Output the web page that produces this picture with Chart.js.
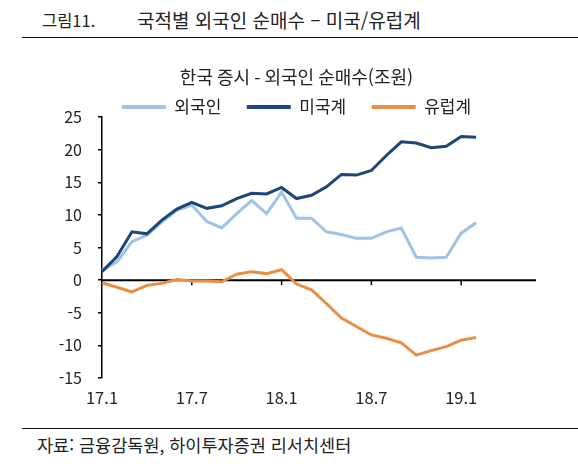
<!DOCTYPE html>
<html lang="ko">
<head>
<meta charset="utf-8">
<script src="https://cdn.jsdelivr.net/npm/chart.js@4"></script>
<style>
  html, body { margin: 0; padding: 0; background: #fff; }
  body { width: 578px; height: 464px; position: relative; overflow: hidden;
         font-family: "Noto Sans CJK KR", "Noto Sans", sans-serif; color: #222; }
  .fig-no { position: absolute; left: 42px; top: 10px; font-size: 16.5px; line-height: 20px; }
  .fig-title { position: absolute; left: 137px; top: 10px; font-size: 19px; line-height: 20px; white-space: nowrap; }
  .rule { position: absolute; left: 22px; width: 556px; height: 1px; background: #111; }
  .src { position: absolute; left: 37px; top: 435px; font-size: 17.5px; line-height: 20px; white-space: nowrap; }
  #wrap { position: absolute; left: 0; top: 48px; width: 578px; height: 370px; }
</style>
</head>
<body>
<div class="fig-no">그림11.</div>
<div class="fig-title">국적별 외국인 순매수 – 미국/유럽계</div>
<div class="rule" style="top:37px"></div>
<div id="wrap"><canvas id="chart"></canvas></div>
<div class="rule" style="top:428px"></div>
<div class="src">자료: 금융감독원, 하이투자증권 리서치센터</div>

<script>
// months on the category axis (17.1 .. 19.6), data runs to 19.2
const months = [
  '17.1','17.2','17.3','17.4','17.5','17.6','17.7','17.8','17.9','17.10','17.11','17.12',
  '18.1','18.2','18.3','18.4','18.5','18.6','18.7','18.8','18.9','18.10','18.11','18.12',
  '19.1','19.2','19.3','19.4','19.5','19.6'
];
const xTickLabels = ['17.1', '17.7', '18.1', '18.7', '19.1'];
const yTicks = [-15, -10, -5, 0, 5, 10, 15, 20, 25];

// cumulative net buying, trillion won
const foreign = [1.5, 2.8, 5.9, 6.9, 8.9, 10.7, 11.5, 9.0, 8.0, 10.2, 12.2, 10.2, 13.5, 9.5, 9.5, 7.4, 7.0, 6.4, 6.4, 7.4, 8.0, 3.5, 3.4, 3.5, 7.2, 8.8];
const usa     = [1.3, 3.6, 7.4, 7.1, 9.2, 10.9, 11.9, 11.0, 11.4, 12.5, 13.3, 13.2, 14.2, 12.5, 13.0, 14.3, 16.2, 16.1, 16.8, 19.1, 21.2, 21.0, 20.3, 20.5, 22.0, 21.9];
const europe  = [-0.4, -1.1, -1.8, -0.8, -0.5, 0.1, -0.15, -0.15, -0.25, 0.9, 1.3, 1.0, 1.6, -0.6, -1.5, -3.6, -5.8, -7.1, -8.4, -8.9, -9.6, -11.5, -10.8, -10.2, -9.2, -8.8];

const C = {
  light: '#9DC3E6',
  navy: '#1B4677',
  orange: '#E98E45',
  ink: '#222',
};
const FONT = '"Noto Sans CJK KR", "Noto Sans", sans-serif';

// zero axis line with small downward ticks, drawn under the series
const zeroAxis = {
  id: 'zeroAxis',
  beforeDatasetsDraw(chart) {
    const { ctx, chartArea, scales } = chart;
    const y0 = scales.y.getPixelForValue(0);
    ctx.save();
    ctx.strokeStyle = '#000';
    ctx.lineWidth = 2;
    ctx.beginPath();
    ctx.moveTo(chartArea.left, y0);
    ctx.lineTo(chartArea.right, y0);
    ctx.stroke();
    ctx.lineWidth = 1.5;
    xTickLabels.forEach((lab) => {
      const x = scales.x.getPixelForValue(months.indexOf(lab));
      ctx.beginPath();
      ctx.moveTo(x, y0);
      ctx.lineTo(x, y0 + 5);
      ctx.stroke();
    });
    ctx.restore();
  },
};

function series(label, data, color, order) {
  return {
    label, data, order,
    borderColor: color,
    backgroundColor: color,
    borderWidth: 3,
    pointRadius: 0,
    tension: 0,
    fill: false,
  };
}

new Chart(document.getElementById('chart'), {
  type: 'line',
  data: {
    labels: months,
    datasets: [
      series('외국인', foreign, C.light, 1),
      series('미국계', usa, C.navy, 0),
      series('유럽계', europe, C.orange, 2),
    ],
  },
  options: {
    responsive: true,
    maintainAspectRatio: false,
    animation: false,
    // left padding shifts the title/legend centre; y axis width keeps the plot edge at x=102
    layout: { padding: { left: 57, right: 42, top: 0, bottom: 0 } },
    scales: {
      x: {
        offset: false,
        grid: { display: false, drawTicks: false },
        border: { display: false },
        ticks: {
          autoSkip: false,
          maxRotation: 0,
          padding: 10,
          color: C.ink,
          font: { family: FONT, size: 16.5 },
          callback: (v, i) => (xTickLabels.includes(months[i]) ? months[i] : ''),
        },
        afterFit: (s) => { s.height = 40; },
      },
      y: {
        min: -15,
        max: 25,
        afterBuildTicks: (s) => { s.ticks = yTicks.map((v) => ({ value: v })); },
        grid: { drawOnChartArea: false, drawTicks: true, tickLength: 4, color: '#000', lineWidth: 1.5 },
        border: { color: '#000', width: 1.5 },
        ticks: { padding: 16, color: C.ink, font: { family: FONT, size: 16 } },
        afterFit: (s) => { s.width = 45; },
      },
    },
    plugins: {
      title: {
        display: true,
        text: '한국 증시 - 외국인 순매수(조원)',
        color: C.ink,
        font: { family: FONT, size: 18, weight: 'normal' },
        padding: { top: 18.7, bottom: -15.3 },
      },
      legend: {
        position: 'top',
        maxHeight: 44,
        labels: {
          boxWidth: 44,
          boxHeight: 4,
          padding: 25.5,
          color: C.ink,
          font: { family: FONT, size: 17 },
          sort: (a, b) => a.datasetIndex - b.datasetIndex,
          generateLabels: (chart) =>
            Chart.defaults.plugins.legend.labels.generateLabels(chart).map((it) => ({ ...it, lineWidth: 0 })),
        },
      },
      tooltip: { enabled: false },
    },
  },
  plugins: [zeroAxis],
});
</script>
</body>
</html>
